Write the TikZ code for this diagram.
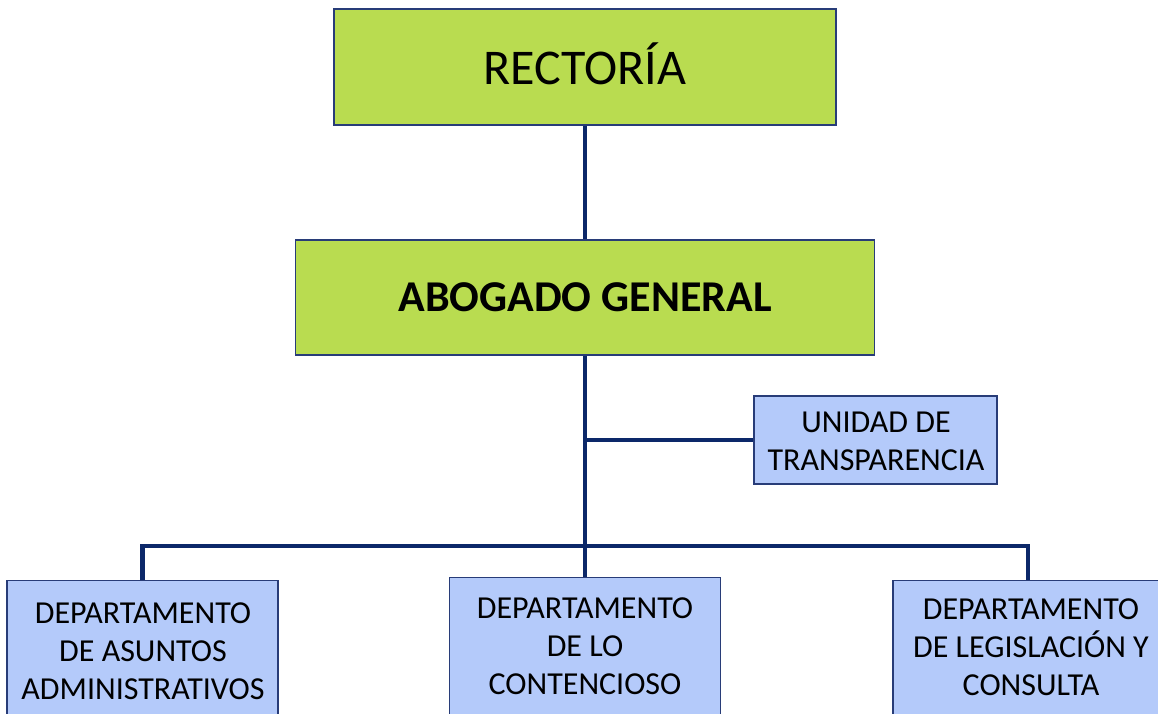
\documentclass[tikz,border=0pt]{standalone}
\usepackage{fontspec}
\setmainfont{Carlito}
\definecolor{boxgreen}{RGB}{185,220,80}
\definecolor{boxblue}{RGB}{180,202,250}
\definecolor{edgeblue}{RGB}{40,60,120}
\definecolor{connblue}{RGB}{12,40,105}
\tikzset{
  gbox/.style={draw=edgeblue, line width=1.2pt, fill=boxgreen, inner sep=0pt},
  bbox/.style={draw=edgeblue, line width=1.2pt, fill=boxblue, inner sep=0pt},
  label31/.style={align=center, inner sep=0pt, font=\fontsize{32}{38}\selectfont},
  conn/.style={draw=connblue, line width=4.2pt, line join=miter}
}
\begin{document}
\begin{tikzpicture}[x=1pt,y=-1pt]
\useasboundingbox (0,0) rectangle (1158,714);
\clip (0,0) rectangle (1158,714);
% boxes
\node[gbox, minimum width=502pt, minimum height=116pt] (rect) at (585,67) {};
\node[font=\fontsize{50}{60}\selectfont, inner sep=0pt] (rectt) at (585,64) {RECTORÍA};
\node[gbox, minimum width=579pt, minimum height=115pt, font=\fontsize{44}{53}\selectfont\bfseries] (abog) at (585,297.5) {ABOGADO GENERAL};
\node[bbox, minimum width=243pt, minimum height=88pt] (unid) at (875.5,440) {};
\node[bbox, anchor=north, minimum width=271pt, minimum height=160pt] (dep1) at (142.5,580) {};
\node[bbox, anchor=north, minimum width=271pt, minimum height=160pt] (dep2) at (585,577) {};
\node[bbox, anchor=north, minimum width=270pt, minimum height=160pt] (dep3) at (1028,580) {};
% texts
\node[label31] (unidt) at (876,441) {UNIDAD DE\\TRANSPARENCIA};
\node[label31] (dep1t) at (143,651) {DEPARTAMENTO\\DE ASUNTOS\\ADMINISTRATIVOS};
\node[label31] (dep2t) at (585,646) {DEPARTAMENTO\\DE LO\\CONTENCIOSO};
\node[label31] (dep3t) at (1031,647) {DEPARTAMENTO\\DE LEGISLACIÓN Y\\CONSULTA};
% connectors
\coordinate (j) at (585,546);
\draw[conn] (rect.south) -- (abog.north);
\draw[conn] (abog.south) -- (j);
\draw[conn] (abog.south |- unid.west) -- (unid.west);
\draw[conn] (dep1.north) |- (j) -| (dep3.north);
\draw[conn] (j) -- (dep2.north);
\end{tikzpicture}
\end{document}
